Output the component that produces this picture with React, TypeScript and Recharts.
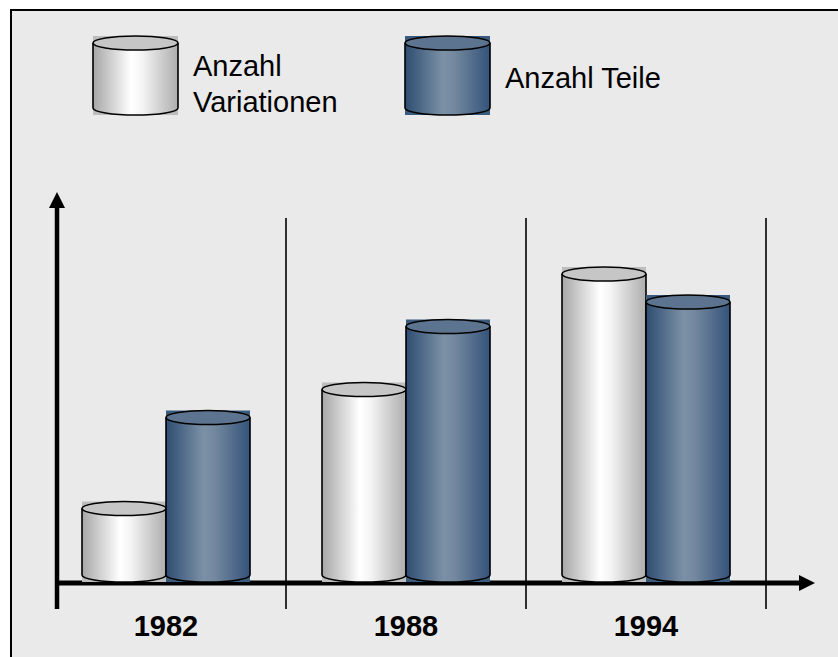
import React from 'react';
import { BarChart, Bar, XAxis, YAxis, Customized } from 'recharts';

const years = ['1982', '1988', '1994'];
const variationen = [19, 53, 86];
const teile = [45, 71, 78];
const seriesNames = ['Anzahl\nVariationen', 'Anzahl Teile'];

const data = years.map((y, i) => ({ year: y, variationen: variationen[i], teile: teile[i] }));

const FONT = '"Liberation Sans", Arial, sans-serif';
const RY = 7;

const styles: Record<string, { grad: string; top: string; back: string }> = {
  white: { grad: 'gradWhite', top: '#c6c6c6', back: '#bdbdbd' },
  blue: { grad: 'gradBlue', top: '#5c748f', back: '#3a5a7e' },
};

function Gradients({ suffix = '' }: { suffix?: string }) {
  return (
    <defs>
      <linearGradient id={'gradWhite' + suffix} x1="0" y1="0" x2="1" y2="0">
        <stop offset="0%" stopColor="#a6a6a6" />
        <stop offset="45%" stopColor="#ffffff" />
        <stop offset="58%" stopColor="#f4f4f4" />
        <stop offset="100%" stopColor="#adadad" />
      </linearGradient>
      <linearGradient id={'gradBlue' + suffix} x1="0" y1="0" x2="1" y2="0">
        <stop offset="0%" stopColor="#2e4d71" />
        <stop offset="45%" stopColor="#7c91a6" />
        <stop offset="58%" stopColor="#73889e" />
        <stop offset="100%" stopColor="#34537a" />
      </linearGradient>
    </defs>
  );
}

function cylinder(x: number, y: number, w: number, h: number, kind: string, suffix = '') {
  const s = styles[kind];
  const body = `M${x},${y} L${x},${y + h} A${w / 2},${RY} 0 0 0 ${x + w},${y + h} L${x + w},${y} Z`;
  const outline = `M${x},${y} L${x},${y + h} A${w / 2},${RY} 0 0 0 ${x + w},${y + h} L${x + w},${y}`;
  return (
    <g>
      <rect x={x} y={y - RY} width={w} height={h + 2 * RY} fill={s.back} />
      <path d={body} fill={`url(#${s.grad}${suffix})`} />
      <path d={outline} fill="none" stroke="#000" strokeWidth={1.6} />
      <ellipse cx={x + w / 2} cy={y} rx={w / 2} ry={RY} fill={s.top} stroke="#000" strokeWidth={1.6} />
    </g>
  );
}

const makeShape = (kind: string) => (props: any) => {
  const { x, y, width, height } = props;
  if (width == null || height == null) return <g />;
  return cylinder(x, y, width, height, kind);
};

const YearTick = (props: any) => {
  const { x, y, payload } = props;
  return (
    <text x={x} y={y} dy={61} textAnchor="middle" fontFamily={FONT} fontWeight="bold" fontSize={29} fill="#000">
      {payload.value}
    </text>
  );
};

const LegendBlock = () => (
  <svg width={838} height={130} style={{ position: 'absolute', left: 0, top: 0 }}>
    <Gradients suffix="L" />
    {cylinder(93, 43, 85, 65, 'white', 'L')}
    <text x={193} y={76} fontFamily={FONT} fontSize={29} fill="#000">{seriesNames[0].split('\n')[0]}</text>
    <text x={193} y={112} fontFamily={FONT} fontSize={29} fill="#000">{seriesNames[0].split('\n')[1]}</text>
    {cylinder(405, 43, 85, 65, 'blue', 'L')}
    <text x={505} y={88} fontFamily={FONT} fontSize={29} fill="#000">{seriesNames[1]}</text>
  </svg>
);

const Decorations = () => (
  <g>
    {[286, 526, 766].map((x) => (
      <line key={x} x1={x} y1={218} x2={x} y2={609} stroke="#000" strokeWidth={1.6} />
    ))}
    <line x1={57} y1={205} x2={57} y2={609} stroke="#000" strokeWidth={4.5} />
    <polygon points="57,192 49,208 65,208" fill="#000" />
    <line x1={55} y1={583} x2={801} y2={583} stroke="#000" strokeWidth={5} />
    <polygon points="815,583 799,575 799,591" fill="#000" />
  </g>
);

export default function App() {
  return (
    <div style={{ position: 'absolute', left: 0, top: 0, width: 838, height: 657, background: '#ffffff', overflow: 'hidden' }}>
      <div
        style={{
          position: 'absolute',
          left: 10,
          top: 9,
          width: 840,
          height: 660,
          background: '#eaeaea',
          borderLeft: '2px solid #000',
          borderTop: '2px solid #000',
        }}
      />
      <div style={{ position: 'absolute', left: 0, top: 0 }}>
        <BarChart
          width={838}
          height={657}
          data={data}
          margin={{ top: 225, right: 72, bottom: 0, left: 46 }}
          barGap={0}
          barSize={84}
        >
          <Gradients />
          <XAxis dataKey="year" axisLine={false} tickLine={false} tickSize={0} tickMargin={0} tick={<YearTick />} height={82} interval={0} />
          <YAxis hide domain={[0, 100]} width={0} />
          <Bar dataKey="variationen" name="Anzahl Variationen" fill="#dddddd" shape={makeShape('white')} isAnimationActive={false} />
          <Bar dataKey="teile" name="Anzahl Teile" fill="#4a6685" shape={makeShape('blue')} isAnimationActive={false} />
          <Customized component={Decorations} />
        </BarChart>
      </div>
      <LegendBlock />
    </div>
  );
}
